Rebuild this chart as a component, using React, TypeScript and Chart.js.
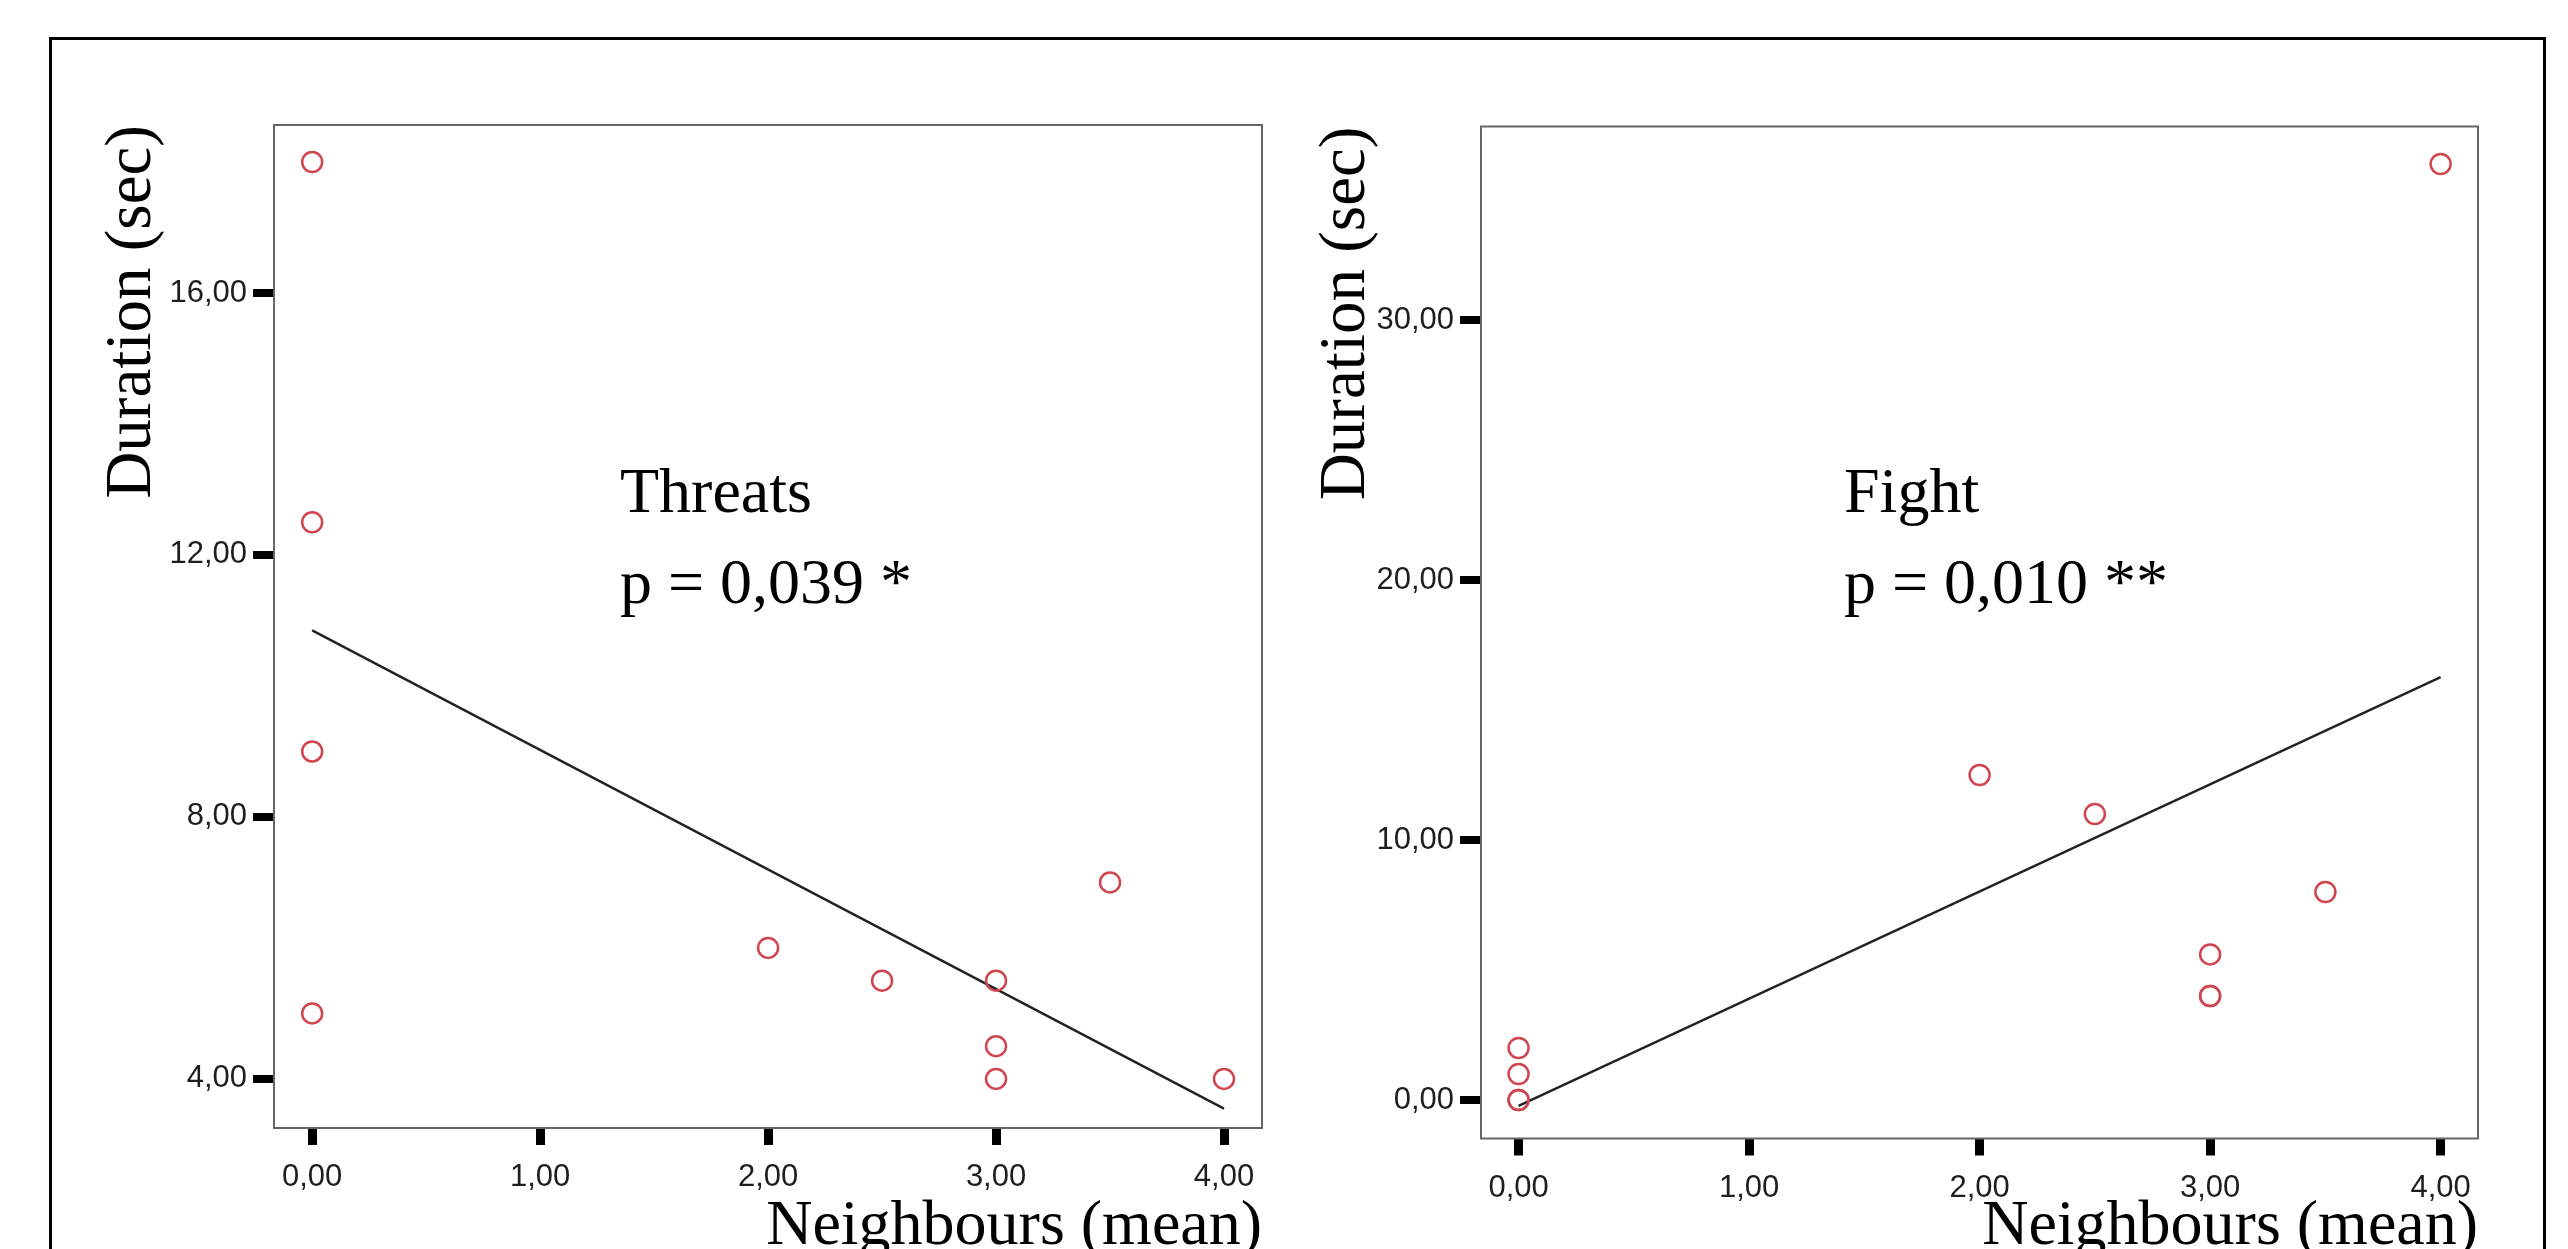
import React, { useEffect, useRef } from 'react';
import { Chart, registerables } from 'chart.js';

Chart.register(...registerables);

// ---- Data ----
const threatsNeighbours = [0, 0, 0, 0, 2, 2.5, 3, 3, 3, 3.5, 4];
const threatsDuration = [18, 12.5, 9, 5, 6, 5.5, 5.5, 4.5, 4, 7, 4];

const fightNeighbours = [0, 0, 0, 0, 2, 2.5, 3, 3, 3, 3.5, 4];
const fightDuration = [2, 1, 0, 0, 12.5, 11, 5.6, 4, 4, 8, 36];

const xTicks = [0, 1, 2, 3, 4];
const threatsYTicks = [4, 8, 12, 16];
const fightYTicks = [0, 10, 20, 30];

const xTitle = 'Neighbours (mean)';
const yTitle = 'Duration (sec)';
const threatsLabels = ['Threats', 'p = 0,039 *'];
const fightLabels = ['Fight', 'p = 0,010 **'];

// ---- Styles ----
const SERIF = "'Liberation Serif', 'Times New Roman', Times, serif";
const SANS = "'Liberation Sans', Arial, Helvetica, sans-serif";
const POINT_RED = '#d0464f';

const fmt = (v: number) => Number(v).toFixed(2).replace('.', ',');

function linearFit(xs: number[], ys: number[]) {
  const n = xs.length;
  const mx = xs.reduce((a, b) => a + b, 0) / n;
  const my = ys.reduce((a, b) => a + b, 0) / n;
  let sxy = 0;
  let sxx = 0;
  for (let i = 0; i < n; i++) {
    sxy += (xs[i] - mx) * (ys[i] - my);
    sxx += (xs[i] - mx) * (xs[i] - mx);
  }
  const slope = sxy / sxx;
  const intercept = my - slope * mx;
  const x0 = Math.min(...xs);
  const x1 = Math.max(...xs);
  return [
    { x: x0, y: intercept + slope * x0 },
    { x: x1, y: intercept + slope * x1 },
  ];
}

const panelPlugin = {
  id: 'panelDecor',
  beforeDatasetsDraw(chart: any) {
    const { ctx, chartArea } = chart;
    ctx.save();
    ctx.strokeStyle = '#666666';
    ctx.lineWidth = 2;
    ctx.strokeRect(chartArea.left, chartArea.top, chartArea.right - chartArea.left, chartArea.bottom - chartArea.top);
    ctx.restore();
  },
  afterDraw(chart: any, _args: any, opts: any) {
    const { ctx, chartArea } = chart;
    if (!opts || !opts.lines) return;
    ctx.save();
    ctx.fillStyle = '#000';
    ctx.textAlign = 'left';
    ctx.textBaseline = 'alphabetic';
    ctx.font = `64px ${SERIF}`;
    opts.lines.forEach((line: string, i: number) => {
      ctx.fillText(line, chartArea.left + opts.dx, opts.baselines[i]);
    });
    ctx.restore();
  },
};

interface PanelSpec {
  xs: number[];
  ys: number[];
  yTicks: number[];
  xMin: number;
  xMax: number;
  yMin: number;
  yMax: number;
  padTop: number;
  padRight: number;
  yAxisWidth: number;
  xAxisHeight: number;
  yTitlePad: number;
  xTickPad: number;
  lines: string[];
  dx: number;
}

function buildConfig(p: PanelSpec): any {
  return {
    type: 'scatter',
    data: {
      datasets: [
        {
          data: p.xs.map((x, i) => ({ x, y: p.ys[i] })),
          showLine: false,
          pointRadius: 10,
          pointBorderWidth: 2.5,
          pointBorderColor: POINT_RED,
          pointBackgroundColor: 'rgba(0,0,0,0)',
          order: 1,
        },
        {
          data: linearFit(p.xs, p.ys),
          showLine: true,
          borderColor: '#222222',
          borderWidth: 2.4,
          pointRadius: 0,
          order: 2,
        },
      ],
    },
    options: {
      responsive: false,
      animation: false,
      events: [],
      layout: { padding: { top: p.padTop, right: p.padRight, left: 0, bottom: 0 } },
      plugins: {
        legend: { display: false },
        tooltip: { enabled: false },
        panelDecor: { lines: p.lines, dx: p.dx, baselines: [512, 603] },
      },
      scales: {
        x: {
          type: 'linear',
          min: p.xMin,
          max: p.xMax,
          afterBuildTicks: (s: any) => {
            s.ticks = xTicks.map((value) => ({ value }));
          },
          afterFit: (s: any) => {
            s.height = p.xAxisHeight;
          },
          border: { display: false },
          grid: {
            display: true,
            drawOnChartArea: false,
            drawTicks: true,
            tickLength: 17,
            tickWidth: 9,
            lineWidth: 9,
            tickColor: '#000',
            color: '#000',
          },
          ticks: {
            padding: p.xTickPad,
            color: '#1e1e1e',
            font: { family: SANS, size: 31 },
            maxRotation: 0,
            autoSkip: false,
            callback: (v: any) => fmt(v),
          },
          title: {
            display: true,
            text: xTitle,
            align: 'end',
            color: '#000',
            font: { family: SERIF, size: 64, lineHeight: 0.6 },
            padding: { top: 0, bottom: 3 },
          },
        },
        y: {
          type: 'linear',
          min: p.yMin,
          max: p.yMax,
          afterBuildTicks: (s: any) => {
            s.ticks = p.yTicks.map((value) => ({ value }));
          },
          afterFit: (s: any) => {
            s.width = p.yAxisWidth;
          },
          border: { display: false },
          grid: {
            display: true,
            drawOnChartArea: false,
            drawTicks: true,
            tickLength: 21,
            tickWidth: 8,
            lineWidth: 8,
            tickColor: '#000',
            color: '#000',
          },
          ticks: {
            padding: 6,
            color: '#1e1e1e',
            font: { family: SANS, size: 31 },
            autoSkip: false,
            callback: (v: any) => fmt(v),
          },
          title: {
            display: true,
            text: yTitle,
            align: 'end',
            color: '#000',
            font: { family: SERIF, size: 65, lineHeight: 1.2 },
            padding: { top: p.yTitlePad, bottom: 0 },
          },
        },
      },
    },
    plugins: [panelPlugin],
  };
}

const leftPanel: PanelSpec = {
  xs: threatsNeighbours,
  ys: threatsDuration,
  yTicks: threatsYTicks,
  xMin: -0.1675,
  xMax: 4.1667,
  yMin: 3.25,
  yMax: 18.565,
  padTop: 125,
  padRight: 28,
  yAxisWidth: 274,
  xAxisHeight: 121,
  yTitlePad: 94,
  xTickPad: 14,
  lines: threatsLabels,
  dx: 346,
};

const rightPanel: PanelSpec = {
  xs: fightNeighbours,
  ys: fightDuration,
  yTicks: fightYTicks,
  xMin: -0.163,
  xMax: 4.162,
  yMin: -1.48,
  yMax: 37.44,
  padTop: 126.5,
  padRight: 90,
  yAxisWidth: 191,
  xAxisHeight: 110.5,
  yTitlePad: 18,
  xTickPad: 14,
  lines: fightLabels,
  dx: 363,
};

export default function App() {
  const leftRef = useRef<HTMLCanvasElement>(null);
  const rightRef = useRef<HTMLCanvasElement>(null);

  useEffect(() => {
    const charts: Chart[] = [];
    if (leftRef.current) charts.push(new Chart(leftRef.current, buildConfig(leftPanel)));
    if (rightRef.current) charts.push(new Chart(rightRef.current, buildConfig(rightPanel)));
    return () => charts.forEach((c) => c.destroy());
  }, []);

  return (
    <div
      style={{
        position: 'fixed',
        left: 0,
        top: 0,
        width: 2568,
        height: 1249,
        overflow: 'hidden',
        background: '#ffffff',
      }}
    >
      <div
        style={{
          position: 'absolute',
          left: 49,
          top: 37,
          width: 2497,
          height: 1400,
          border: '3px solid #000',
          boxSizing: 'border-box',
        }}
      />
      <canvas
        ref={leftRef}
        width={1290}
        height={1249}
        style={{ position: 'absolute', left: 0, top: 0, width: 1290, height: 1249 }}
      />
      <canvas
        ref={rightRef}
        width={1278}
        height={1249}
        style={{ position: 'absolute', left: 1290, top: 0, width: 1278, height: 1249 }}
      />
    </div>
  );
}
